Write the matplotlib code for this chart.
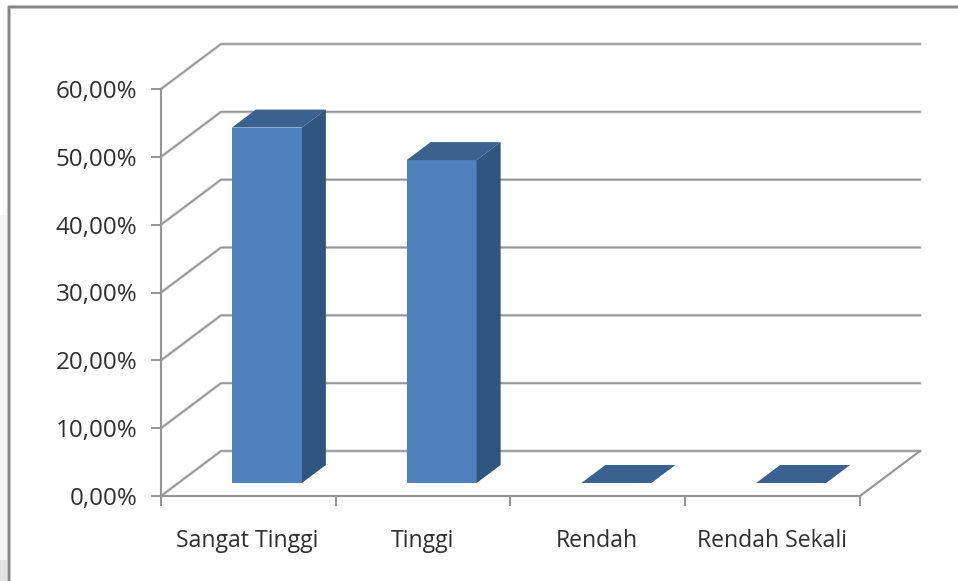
import matplotlib
matplotlib.use('Agg')
import matplotlib.pyplot as plt
from matplotlib.patches import Polygon

categories = ['Sangat Tinggi', 'Tinggi', 'Rendah', 'Rendah Sekali']
values = [52.4, 47.6, 0, 0]
yticks = [0, 10, 20, 30, 40, 50, 60]
ylabels = ['0,00%', '10,00%', '20,00%', '30,00%', '40,00%', '50,00%', '60,00%']

# pixel geometry of the fake 3d box
x0, x1 = 161, 860
y0, y60 = 496, 89
depth_x, depth_y = 60, -45
bar_w = 70
bar_off_x, bar_off_y = 18.5, -13
bar_dx, bar_dy = 24, -18

grid_col = '#949494'
text_col = '#2f2f2f'
front_col = '#4f81bd'
top_col = '#3b6191'
side_col = '#30557f'

plt.rcParams['font.family'] = ['Open Sans', 'DejaVu Sans']

fig = plt.figure(figsize=(9.58, 5.81), dpi=100)
ax = fig.add_axes([0, 0, 1, 1])
ax.set_xlim(0, 958)
ax.set_ylim(581, 0)
ax.axis('off')


def vy(v):
    return y0 + (y60 - y0) * v / 60.0


# pale strip left of the frame
ax.fill_between([0, 8], 215, 581, color='#f4f4f4', lw=0, zorder=0)
ax.fill_between([0, 8], 560, 581, color='#e2e2e2', lw=0, zorder=0)

# outer frame
ax.plot([9, 9, 958], [581, 7, 7], color='#d0d0d0', lw=3.0, solid_capstyle='butt', zorder=1)
ax.plot([9, 9, 958], [581, 7, 7], color='#858585', lw=1.7, solid_capstyle='butt', zorder=1)

# walls and grid
for v in yticks:
    y = vy(v)
    ax.plot([x0, x0 + depth_x, x1 + depth_x], [y, y + depth_y, y + depth_y], color='#d2d2d2', lw=2.2, zorder=2)
    ax.plot([x0, x0 + depth_x, x1 + depth_x], [y, y + depth_y, y + depth_y], color=grid_col, lw=1.1, zorder=2)
    ax.plot([x0 - 9, x0], [y, y], color=grid_col, lw=1.4, zorder=3)
    ax.text(137.5, y + 3, ylabels[yticks.index(v)], ha='right', va='center', fontsize=17.4, color=text_col)

ax.plot([x0, x0], [vy(0), vy(60)], color=grid_col, lw=1.5, zorder=3)
ax.plot([x0, x1, x1 + depth_x], [y0, y0, y0 + depth_y], color=grid_col, lw=1.5, zorder=3)

# bars and category ticks
slot = (x1 - x0) / float(len(categories))
for i in range(len(categories) + 1):
    ax.plot([x0 + i * slot] * 2, [y0, y0 + 9], color=grid_col, lw=1.4, zorder=3)

for i, name in enumerate(categories):
    cx = x0 + (i + 0.5) * slot + bar_off_x
    l, r = cx - bar_w / 2.0, cx + bar_w / 2.0
    b = y0 + bar_off_y
    t = b + vy(values[i]) - y0
    ax.add_patch(Polygon([(l, b), (r, b), (r, t), (l, t)], fc=front_col, ec='none', zorder=5))
    ax.add_patch(Polygon([(r, b), (r + bar_dx, b + bar_dy), (r + bar_dx, t + bar_dy), (r, t)], fc=side_col, ec='none', zorder=5))
    ax.add_patch(Polygon([(l, t), (r, t), (r + bar_dx, t + bar_dy), (l + bar_dx, t + bar_dy)], fc=top_col, ec='none', zorder=5))
    ax.text(x0 + (i + 0.5) * slot - 1, 541, name, ha='center', va='center', fontsize=16.6, color=text_col)

fig.savefig('out.png', dpi=100)
